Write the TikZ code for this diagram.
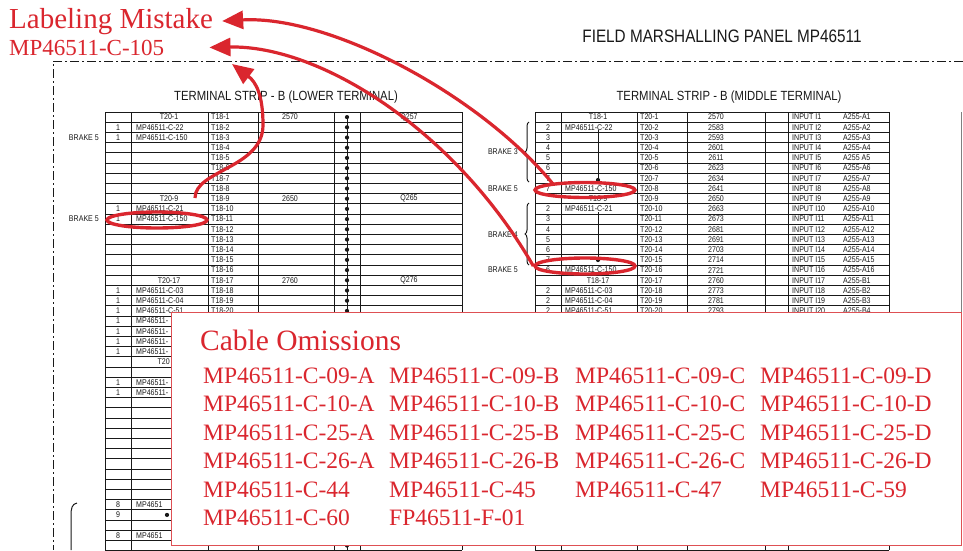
\documentclass[tikz,border=0pt]{standalone}
\usepackage{fontspec}
\setmainfont{Liberation Serif}
\newfontfamily\tech[FakeStretch=0.85]{Liberation Sans}
\usetikzlibrary{arrows.meta,decorations.pathreplacing,calc,shapes.geometric}
\definecolor{mred}{RGB}{218,38,46}
\definecolor{boxred}{RGB}{222,80,84}
\definecolor{ink}{RGB}{25,25,25}
\newcommand\rowy[1]{(112+10.2*(#1+0.5))}
\begin{document}
\begin{tikzpicture}[x=1pt,y=-1pt,
 tline/.style={draw=ink,line width=1pt},
 cell/.style={font=\tech\fontsize{8.3}{9}\selectfont,text=ink,inner sep=0pt},
 cl/.style={cell,anchor=west},
 cc/.style={cell,anchor=center},
 ce/.style={cell,anchor=east},
 hdr/.style={font=\tech\fontsize{13.3}{14}\selectfont,text=ink,inner sep=0pt},
 ttl/.style={font=\tech\fontsize{18}{19}\selectfont,text=ink,inner sep=0pt},
 ring/.style={draw=mred,line width=3.4pt,ellipse,inner sep=0pt},
 redarr/.style={draw=mred,line width=3.2pt,-{Triangle[length=21pt,width=18pt]}},
 redtxt/.style={text=mred,inner sep=0pt,anchor=base west},
 omit/.style={redtxt,font=\fontsize{23.5}{24}\selectfont},
 dashdot/.style={draw=ink,line width=0.9pt,dash pattern=on 9pt off 3pt on 2pt off 3pt},
 jdot/.style={circle,fill=ink,inner sep=0pt,minimum size=4.2pt},
 bracket/.style={draw=ink,line width=1pt,decorate,decoration={brace,amplitude=4pt}},
]
\useasboundingbox (0,0) rectangle (963,550);
\fill[white] (0,0) rectangle (963,550);

% title and headers
\node[ttl] (title) at (722,36) {FIELD MARSHALLING PANEL MP46511};
\node[hdr] (hdrL) at (286,97) {TERMINAL STRIP - B (LOWER TERMINAL)};
\node[hdr] (hdrR) at (729,97) {TERMINAL STRIP - B (MIDDLE TERMINAL)};

% dash-dot frame
\coordinate (bTR) at (963,61);
\coordinate (bTL) at (53,61);
\coordinate (bBL) at (53,550);
\draw[dashdot] (bTR) -- (bTL) -- (bBL);

% ---------- left table ----------
\foreach \x in {105,131,208,258,334,360,462} \draw[tline] (\x,112) -- (\x,550);
\foreach \i in {0,...,43} \draw[tline] (105,{112+10.2*\i}) -- (462,{112+10.2*\i});
\draw[ink,line width=1pt] (347,117) -- (347,550);
\foreach \i in {0,...,42} \node[jdot] (Ldot\i) at (347,{\rowy{\i}}) {};

\foreach \i/\t in {0/T20-1,8/T20-9,16/T20-17} \node[cc] (Lh\i) at (169,{\rowy{\i}}) {\t};
\foreach \i/\a/\b in {0/2570/Q257,8/2650/Q265,16/2760/Q276} {
  \node[cc] (Lw\i) at (290,{\rowy{\i}}) {\a};
  \node[cc] (Lq\i) at (409,{\rowy{\i}}) {\b};
}
\foreach \i/\t in {1/MP46511-C-22,2/MP46511-C-150,9/MP46511-C-21,10/MP46511-C-150,17/MP46511-C-03,18/MP46511-C-04,19/MP46511-C-51} {
  \node[cc] (La\i) at (118,{\rowy{\i}}) {1};
  \node[cl] (Lb\i) at (136,{\rowy{\i}}) {\t};
}
\foreach \i in {20,21,22,23,26,27} {
  \node[cc] (La\i) at (118,{\rowy{\i}}) {1};
  \node[cl] (Lb\i) at (136,{\rowy{\i}}) {MP46511-};
}
\node[ce] (Lb24) at (170,{\rowy{24}}) {T20};
\foreach \n in {1,...,20} \node[cl] (Lt\n) at (211,{112+10.2*(\n-0.5)}) {T18-\n};
\node[cc] (La38) at (118,{\rowy{38}}) {8};
\node[cl] (Lb38) at (136,{\rowy{38}}) {MP4651};
\node[cc] (La39) at (118,{\rowy{39}}) {9};
\node[jdot] (Lj39) at (167,{\rowy{39}}) {};
\node[cc] (La41) at (118,{\rowy{41}}) {8};
\node[cl] (Lb41) at (136,{\rowy{41}}) {MP4651};

\node[ce] (Lbr1) at (99,{\rowy{2}}) {BRAKE 5};
\node[ce] (Lbr2) at (99,{\rowy{10}}) {BRAKE 5};

\coordinate (lbA) at (77,503);
\coordinate (lbB) at (71,550);
\draw[tline] (lbA) .. controls (72,504) and (71,508) .. (71,516) -- (lbB);

% ---------- right table ----------
\foreach \x in {535,561,637,687,765,788,889} \draw[tline] (\x,112) -- (\x,550);
\foreach \i in {0,...,43} \draw[tline] (535,{112+10.2*\i}) -- (889,{112+10.2*\i});
\draw[draw=ink!55,line width=0.8pt] (961,112) -- (961,312);

\foreach \i/\n/\c/\a in {0//2570/A255-A1, 1/2/2583/A255-A2, 2/3/2593/A255-A3, 3/4/2601/A255-A4, 4/5/2611/A255 A5, 5/6/2623/A255-A6, 6/7/2634/A255-A7, 7/7/2641/A255-A8, 8//2650/A255-A9, 9/2/2663/A255-A10, 10/3/2673/A255-A11, 11/4/2681/A255-A12, 12/5/2691/A255-A13, 13/6/2703/A255-A14, 14/7/2714/A255-A15, 15/6/2721/A255-A16, 16//2760/A255-B1, 17/2/2773/A255-B2, 18/2/2781/A255-B3, 19/2/2793/A255-B4} {
  \pgfmathtruncatemacro\m{\i+1}
  \node[cc] (Ra\i) at (548,{\rowy{\i}}) {\n};
  \node[cl] (Rc\i) at (640,{\rowy{\i}}) {T20-\m};
  \node[cc] (Rd\i) at (716,{\rowy{\i}}) {\c};
  \node[cl] (Rf\i) at (792,{\rowy{\i}}) {INPUT I\m};
  \node[cl] (Rg\i) at (843,{\rowy{\i}}) {\a};
}
\foreach \i/\t in {0/T18-1,8/T18-9,16/T18-17} \node[cc] (Rh\i) at (598,{\rowy{\i}}) {\t};
\foreach \i/\t in {1/MP46511-C-22,7/MP46511-C-150,9/MP46511-C-21,15/MP46511-C-150,17/MP46511-C-03,18/MP46511-C-04,19/MP46511-C-51} \node[cl] (Rb\i) at (565,{\rowy{\i}}) {\t};

\node[jdot] (Rj1) at (598,180) {};
\node[jdot] (Rj2) at (598,260) {};
\draw[tline] (Rb1.south -| Rj1) -- (Rj1);
\draw[tline] (Rb9.south -| Rj2) -- (Rj2);

\coordinate (br3a) at (529,182);
\coordinate (br3b) at (529,122);
\coordinate (br4a) at (529,265);
\coordinate (br4b) at (529,203);
\draw[bracket] (br3a) -- (br3b);
\draw[bracket] (br4a) -- (br4b);
\node[ce] (Rbr3) at (518,152) {BRAKE 3};
\node[ce] (Rbr5a) at (518,{\rowy{7}}) {BRAKE 5};
\node[ce] (Rbr4) at (518,235) {BRAKE 4};
\node[ce] (Rbr5b) at (518,{\rowy{15}}) {BRAKE 5};

% ---------- red annotations ----------
\node[ring,minimum width=100pt,minimum height=16pt] (ringL) at (157,220) {};
\node[ring,minimum width=100pt,minimum height=15pt] (ringR1) at (585,190) {};
\node[ring,minimum width=100pt,minimum height=16pt] (ringR2) at (585,266) {};

\node[redtxt,font=\fontsize{29}{30}\selectfont] (lab1) at (9,28) {Labeling Mistake};
\node[redtxt,font=\fontsize{23}{24}\selectfont] (lab2) at (9,55) {MP46511-C-105};
\coordinate (tipC) at (232,64);

\draw[redarr] ($(ringR1.center)+(-32,-6)$) .. controls (480,95) and (330,15) .. ([xshift=9pt]lab1.east);
\draw[redarr] (ringR2.west) .. controls (455,130) and (320,45) .. ([xshift=45pt]lab2.east);
\draw[redarr] ($(ringL.center)+(38,-22)$) .. controls (195,170) and (263,168) .. (263,125) .. controls (263,95) and (256,82) .. (tipC);

% ---------- cable omissions box ----------
\node[draw=boxred,fill=white,line width=0.9pt,inner sep=0pt,minimum width=790pt,minimum height=233pt,anchor=north west] (cbox) at (171,312) {};
\node[redtxt,font=\fontsize{29.5}{30}\selectfont] (cotitle) at (200,350) {Cable Omissions};
\foreach \r/\a/\b/\c/\d in {0/MP46511-C-09-A/MP46511-C-09-B/MP46511-C-09-C/MP46511-C-09-D,
  1/MP46511-C-10-A/MP46511-C-10-B/MP46511-C-10-C/MP46511-C-10-D,
  2/MP46511-C-25-A/MP46511-C-25-B/MP46511-C-25-C/MP46511-C-25-D,
  3/MP46511-C-26-A/MP46511-C-26-B/MP46511-C-26-C/MP46511-C-26-D,
  4/MP46511-C-44/MP46511-C-45/MP46511-C-47/MP46511-C-59} {
  \node[omit] (o\r-a) at (203,{383+28.5*\r}) {\a};
  \node[omit] (o\r-b) at (389,{383+28.5*\r}) {\b};
  \node[omit] (o\r-c) at (575,{383+28.5*\r}) {\c};
  \node[omit] (o\r-d) at (760,{383+28.5*\r}) {\d};
}
\node[omit] (o5-a) at (203,{383+28.5*5}) {MP46511-C-60};
\node[omit] (o5-b) at (389,{383+28.5*5}) {FP46511-F-01};
\end{tikzpicture}
\end{document}
